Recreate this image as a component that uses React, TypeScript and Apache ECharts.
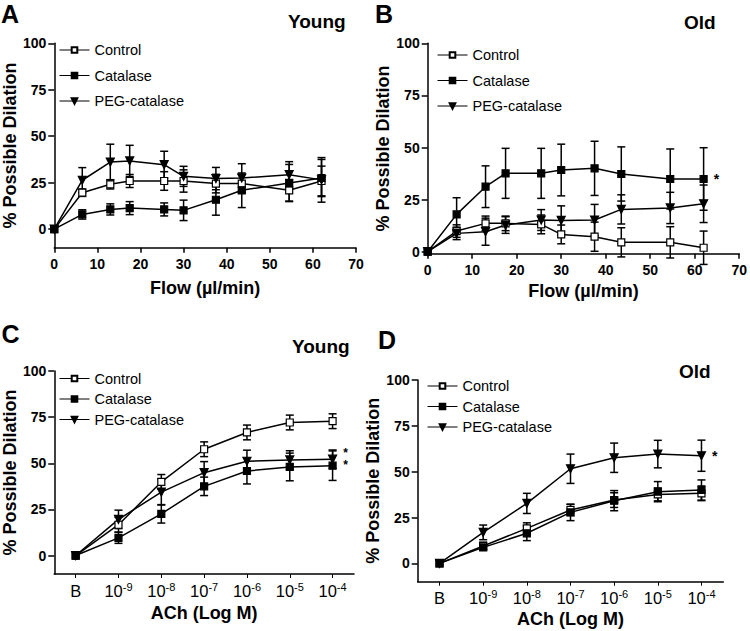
import { useEffect, useRef } from "react";
import * as echarts from "echarts";

// ---------- data ----------
const SERIES_NAMES = ["Control", "Catalase", "PEG-catalase"];
const FLOW = [0, 6.5, 13, 17.5, 25.5, 30, 37.5, 43.5, 54.5, 62];
const ACH_LABELS = ["B", "10^-9", "10^-8", "10^-7", "10^-6", "10^-5", "10^-4"];
const Y_TICKS = [0, 25, 50, 75, 100];

// Panel A – Young, flow
const A_CONTROL = [0, 19.6, 24.1, 25.9, 25.9, 25.9, 24.5, 24.5, 20.9, 25.9];
const A_CONTROL_ERR = [0, 2, 2.5, 3.5, 5, 6, 5, 5, 5.8, 8];
const A_CATALASE = [0, 7.9, 10.6, 11.3, 10.6, 10.1, 15.8, 20.9, 24.8, 27.5];
const A_CATALASE_ERR = [0, 2.5, 3, 3.5, 3.5, 5.5, 8.3, 9.3, 10, 10];
const A_PEG = [0, 26.3, 36.1, 36.7, 34.7, 28.4, 27.2, 27.5, 29.3, 26.5];
const A_PEG_ERR = [0, 6.8, 9.6, 8.4, 7.2, 5.4, 6, 7.7, 7, 12];

// Panel B – Old, flow
const B_CONTROL = [0, 9.9, 13.6, 13.6, 13.1, 8.3, 7.2, 4.5, 4.5, 1.9];
const B_CONTROL_ERR = [0, 3, 3.5, 3.5, 4.5, 4.5, 7, 7, 7.5, 8];
const B_CATALASE = [0, 17.9, 31.2, 37.6, 37.6, 39.2, 40, 37.3, 34.9, 34.9];
const B_CATALASE_ERR = [0, 8, 10, 12, 12, 12.4, 13, 13, 14.4, 15];
const B_PEG = [0, 8.8, 9.6, 12.8, 15.2, 15, 15.2, 20.3, 21, 23];
const B_PEG_ERR = [0, 3, 6.5, 4, 5, 7, 7.5, 7, 7.5, 9];

// Panel C – Young, ACh
const C_CONTROL = [0, 16.7, 39.9, 57.6, 66.7, 72.1, 72.8];
const C_CONTROL_ERR = [0, 4, 4, 4, 4, 4, 4];
const C_CATALASE = [0, 9.6, 22.6, 37.5, 45.8, 48, 48.7];
const C_CATALASE_ERR = [0, 3, 5, 5, 7, 7.5, 8];
const C_PEG = [0, 19.6, 34.4, 44.9, 51.1, 51.8, 52.2];
const C_PEG_ERR = [0, 5, 7, 6, 6, 5, 5];

// Panel D – Old, ACh
const D_CONTROL = [0, 9.5, 19.1, 29.1, 34.5, 37.6, 38.2];
const D_CONTROL_ERR = [0, 2, 3, 3, 4, 3.5, 4];
const D_CATALASE = [0, 8.7, 16.4, 27.8, 34.2, 39.1, 40];
const D_CATALASE_ERR = [0, 1.5, 4, 4.5, 5.5, 5.5, 5.5];
const D_PEG = [0, 16.9, 32.7, 51.6, 57.6, 59.6, 58.7];
const D_PEG_ERR = [0, 4, 5.5, 8, 8, 7.5, 8.5];

const FONT = "'Liberation Sans', Arial, Helvetica, sans-serif";
const INK = "#000";

type Star = { text: string; offset: number; fontSize: number; lineHeight: number };
type PanelDef = {
  letter: string;
  title: string;
  kind: "flow" | "ach";
  grid: { left: number; top: number; width: number; height: number };
  yMin: number;
  legend: { left: number; top: number; gap: number };
  letterPos: [number, number];
  titlePos: [number, number];
  xNameGap: number;
  yNameGap: number;
  series: { values: number[]; errors: number[]; star?: Star }[];
};

const PANELS: PanelDef[] = [
  {
    letter: "A", title: "Young", kind: "flow",
    grid: { left: 49.5, top: 43.3, width: 306.5, height: 204.4 }, yMin: -10,
    legend: { left: 59, top: 42.5, gap: 10.5 },
    letterPos: [1, 13.5], titlePos: [288, 21.7], xNameGap: 31, yNameGap: 32.5,
    series: [
      { values: A_CONTROL, errors: A_CONTROL_ERR },
      { values: A_CATALASE, errors: A_CATALASE_ERR },
      { values: A_PEG, errors: A_PEG_ERR },
    ],
  },
  {
    letter: "B", title: "Old", kind: "flow",
    grid: { left: 427.7, top: 43.3, width: 314, height: 210.5 }, yMin: -1,
    legend: { left: 437, top: 47.5, gap: 10.5 },
    letterPos: [375, 13.5], titlePos: [684, 22], xNameGap: 28, yNameGap: 26.5,
    series: [
      { values: B_CONTROL, errors: B_CONTROL_ERR },
      { values: B_CATALASE, errors: B_CATALASE_ERR, star: { text: "*", offset: 2, fontSize: 14, lineHeight: 10 } },
      { values: B_PEG, errors: B_PEG_ERR },
    ],
  },
  {
    letter: "C", title: "Young", kind: "ach",
    grid: { left: 49.5, top: 371, width: 304.5, height: 203 }, yMin: -10,
    legend: { left: 59, top: 371, gap: 5.5 },
    letterPos: [1.5, 333.7], titlePos: [292, 346], xNameGap: 30, yNameGap: 33,
    series: [
      { values: C_CONTROL, errors: C_CONTROL_ERR },
      { values: C_CATALASE, errors: C_CATALASE_ERR },
      { values: C_PEG, errors: C_PEG_ERR, star: { text: "*\n*", offset: 5.3, fontSize: 12, lineHeight: 12 } },
    ],
  },
  {
    letter: "D", title: "Old", kind: "ach",
    grid: { left: 417.7, top: 380, width: 305.6, height: 201.7 }, yMin: -10,
    legend: { left: 427, top: 378.5, gap: 5.5 },
    letterPos: [378, 340], titlePos: [679, 371], xNameGap: 28, yNameGap: 27,
    series: [
      { values: D_CONTROL, errors: D_CONTROL_ERR },
      { values: D_CATALASE, errors: D_CATALASE_ERR },
      { values: D_PEG, errors: D_PEG_ERR, star: { text: "*", offset: 3.5, fontSize: 14, lineHeight: 10 } },
    ],
  },
];

const SYMBOLS = [
  { symbol: "rect", size: 7, rotate: 0, fill: "#fff" },
  { symbol: "rect", size: 7, rotate: 0, fill: INK },
  { symbol: "triangle", size: 8, rotate: 180, fill: INK },
];

function buildOption() {
  const grids: any[] = [];
  const xAxes: any[] = [];
  const yAxes: any[] = [];
  const legends: any[] = [];
  const series: any[] = [];
  const graphics: any[] = [];

  PANELS.forEach((p, pi) => {
    grids.push({ ...p.grid, containLabel: false });
    const axisLine = { show: true, onZero: false, lineStyle: { color: INK, width: 1.5 } };
    const nameStyle = { fontSize: 18, fontWeight: "bold", color: INK, fontFamily: FONT };

    if (p.kind === "flow") {
      xAxes.push({
        type: "value", gridIndex: pi, min: 0, max: 70, interval: 10,
        axisLine, axisTick: { show: true, length: 5, lineStyle: { color: INK, width: 1.5 } },
        axisLabel: { fontSize: 14, fontWeight: "bold", color: INK, margin: 9, fontFamily: FONT },
        splitLine: { show: false },
        name: "Flow (µl/min)", nameLocation: "middle", nameGap: p.xNameGap, nameTextStyle: nameStyle,
      });
    } else {
      xAxes.push({
        type: "category", gridIndex: pi, data: ACH_LABELS, boundaryGap: true,
        axisLine,
        axisTick: { show: true, alignWithLabel: true, interval: 0, length: 4, lineStyle: { color: INK, width: 1 } },
        axisLabel: {
          interval: 0, hideOverlap: false,
          fontSize: 16.5, color: INK, margin: 7, fontFamily: FONT,
          formatter: (v: string) => {
            const parts = v.split("^");
            return parts.length === 2 ? `{base|${parts[0]}}{sup|${parts[1]}}` : `{base|${v}}`;
          },
          rich: {
            base: { fontSize: 16.5, color: INK, fontFamily: FONT, lineHeight: 18, verticalAlign: "bottom" },
            sup: { fontSize: 11, color: INK, fontFamily: FONT, lineHeight: 18, verticalAlign: "top" },
          },
        },
        splitLine: { show: false },
        name: "ACh (Log M)", nameLocation: "middle", nameGap: p.xNameGap, nameTextStyle: nameStyle,
      });
    }
    yAxes.push({
      type: "value", gridIndex: pi, min: p.yMin, max: 100,
      axisLine,
      axisTick: { show: true, length: 6, customValues: Y_TICKS, lineStyle: { color: INK, width: 1.5 } },
      axisLabel: { fontSize: 14, fontWeight: "bold", color: INK, margin: 8, customValues: Y_TICKS, fontFamily: FONT },
      splitLine: { show: false },
      name: "% Possible Dilation", nameLocation: "middle", nameGap: p.yNameGap, nameTextStyle: nameStyle,
    });

    legends.push({
      orient: "vertical", left: p.legend.left, top: p.legend.top, itemWidth: 30, itemHeight: 7,
      itemGap: p.legend.gap, padding: 0, selectedMode: false,
      data: SERIES_NAMES,
      lineStyle: { color: INK, width: 1 },
      textStyle: { fontSize: 14.5, color: INK, fontFamily: FONT },
    });

    const xs = p.kind === "flow" ? FLOW : ACH_LABELS.map((_, i) => i);

    p.series.forEach((s) => {
      const errData = s.values.map((v, i) => [xs[i], v, s.errors[i]]);
      series.push({
        type: "custom", xAxisIndex: pi, yAxisIndex: pi, z: 2, silent: true,
        data: errData,
        renderItem: (_params: any, api: any) => {
          const x = api.value(0), y = api.value(1), e = api.value(2);
          if (!e) return { type: "group", children: [] };
          const t = api.coord([x, y + e]);
          const b = api.coord([x, y - e]);
          const hw = 4;
          const st = { stroke: INK, lineWidth: 1.5 };
          return {
            type: "group",
            children: [
              { type: "line", shape: { x1: t[0], y1: t[1], x2: b[0], y2: b[1] }, style: st },
              { type: "line", shape: { x1: t[0] - hw, y1: t[1], x2: t[0] + hw, y2: t[1] }, style: st },
              { type: "line", shape: { x1: b[0] - hw, y1: b[1], x2: b[0] + hw, y2: b[1] }, style: st },
            ],
          };
        },
      });
    });

    p.series.forEach((s, si) => {
      const sym = SYMBOLS[si];
      const data = s.values.map((v, i) => {
        const item: any = { value: [xs[i], v] };
        if (s.star && i === s.values.length - 1) {
          item.label = {
            show: true, formatter: s.star.text, position: "right", distance: 6, offset: [0, s.star.offset],
            fontSize: s.star.fontSize, lineHeight: s.star.lineHeight, fontWeight: "bold", color: INK, fontFamily: FONT,
          };
        }
        return item;
      });
      series.push({
        type: "line", name: SERIES_NAMES[si], xAxisIndex: pi, yAxisIndex: pi, z: 3,
        data, symbol: sym.symbol, symbolSize: sym.size, symbolRotate: sym.rotate, showAllSymbol: true,
        lineStyle: { color: INK, width: 1.5 },
        itemStyle: { color: sym.fill, borderColor: INK, borderWidth: 1.2 },
        labelLayout: { hideOverlap: false },
        emphasis: { disabled: true }, silent: true, clip: false,
      });
    });

    graphics.push({
      type: "text", x: p.letterPos[0], y: p.letterPos[1],
      style: {
        text: p.letter, font: `bold 25px ${FONT}`, lineHeight: 22, fill: INK,
        textAlign: "left", textVerticalAlign: "middle",
      },
    });
    graphics.push({
      type: "text", x: p.titlePos[0], y: p.titlePos[1],
      style: { text: p.title, font: `bold 19px ${FONT}`, fill: INK, textAlign: "left", textVerticalAlign: "middle" },
    });
  });

  return {
    animation: false,
    backgroundColor: "#fff",
    textStyle: { fontFamily: FONT },
    grid: grids,
    xAxis: xAxes,
    yAxis: yAxes,
    legend: legends,
    series,
    graphic: graphics,
  };
}

export default function App() {
  const ref = useRef<HTMLDivElement>(null);
  useEffect(() => {
    if (!ref.current) return;
    const chart = echarts.init(ref.current, undefined, { renderer: "svg" });
    chart.setOption(buildOption() as any);
    return () => chart.dispose();
  }, []);
  return (
    <div
      ref={ref}
      style={{ position: "fixed", left: 0, top: 0, width: 750, height: 631, background: "#fff" }}
    />
  );
}
